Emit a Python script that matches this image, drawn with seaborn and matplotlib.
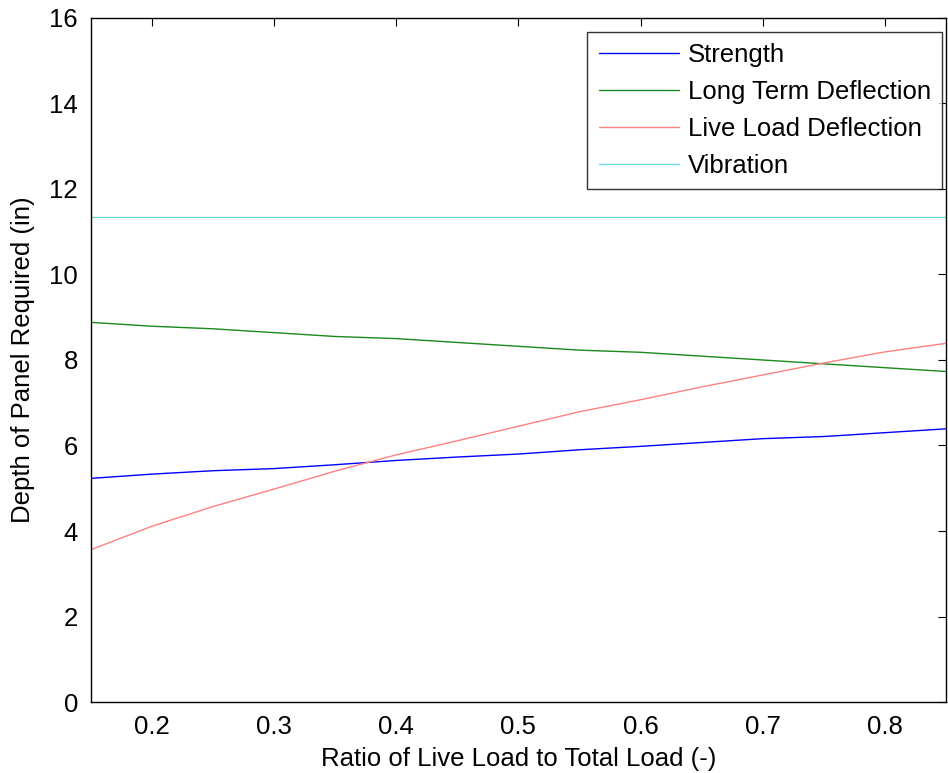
import numpy as np
import pandas as pd
import matplotlib
matplotlib.use("Agg")
import matplotlib.pyplot as plt
import seaborn as sns

ratio = [0.15, 0.20, 0.25, 0.30, 0.35, 0.40, 0.45, 0.50, 0.55, 0.60, 0.65, 0.70, 0.75, 0.80, 0.85]
strength = [5.23, 5.33, 5.41, 5.46, 5.55, 5.65, 5.73, 5.80, 5.90, 5.98, 6.07, 6.16, 6.21, 6.30, 6.39]
long_term = [8.88, 8.79, 8.73, 8.64, 8.55, 8.50, 8.41, 8.32, 8.23, 8.18, 8.09, 8.00, 7.91, 7.82, 7.73]
live_load = [3.56, 4.11, 4.57, 4.98, 5.40, 5.78, 6.11, 6.45, 6.79, 7.07, 7.37, 7.65, 7.93, 8.19, 8.39]
vibration = [11.35] * 15

series_names = ["Strength", "Long Term Deflection", "Live Load Deflection", "Vibration"]
series_colors = ["#0000ff", "#1a8a1a", "#ff8080", "#70d8d8"]

x_ticks = [0.2, 0.3, 0.4, 0.5, 0.6, 0.7, 0.8]
y_ticks = [0, 2, 4, 6, 8, 10, 12, 14, 16]

df = pd.DataFrame({
    "ratio": ratio * 4,
    "depth": strength + long_term + live_load + vibration,
    "series": sum([[n] * len(ratio) for n in series_names], []),
})

sns.set_style("white")
plt.rcParams["font.family"] = ["Liberation Sans", "DejaVu Sans"]
plt.rcParams["text.color"] = "black"
plt.rcParams["axes.labelcolor"] = "black"

FS = 18.5

fig = plt.figure(figsize=(9.48, 7.73), dpi=100)
ax = fig.add_axes([0.0955, 0.0918, 0.9025, 0.885])

sns.lineplot(data=df, x="ratio", y="depth", hue="series",
             palette=dict(zip(series_names, series_colors)),
             hue_order=series_names, linewidth=1.0, ax=ax, legend=True)

ax.set_xlim(0.15, 0.85)
ax.set_ylim(0, 16)
ax.set_xticks(x_ticks)
ax.set_xticklabels([f"{t:g}" for t in x_ticks])
ax.set_yticks(y_ticks)
ax.tick_params(direction="in", length=6, width=0.8, top=True, right=True,
               labelsize=FS, colors="black", pad=9)
for s in ax.spines.values():
    s.set_color("black")
    s.set_linewidth(1.0)

ax.set_xlabel("Ratio of Live Load to Total Load (-)", fontsize=FS, labelpad=6, color="black")
ax.set_ylabel("Depth of Panel Required (in)", fontsize=FS, labelpad=10, color="black")

leg = ax.legend(loc="upper right", bbox_to_anchor=(0.9955, 0.98), fontsize=FS,
                frameon=True, fancybox=False, edgecolor="black",
                handlelength=3.1, borderpad=0.45, labelspacing=0.5,
                handletextpad=0.35, borderaxespad=0)
leg.get_frame().set_linewidth(1.0)
for t in leg.get_texts():
    t.set_color("black")
for l in leg.get_lines():
    l.set_linewidth(1.0)

fig.savefig("out.png", dpi=100)
